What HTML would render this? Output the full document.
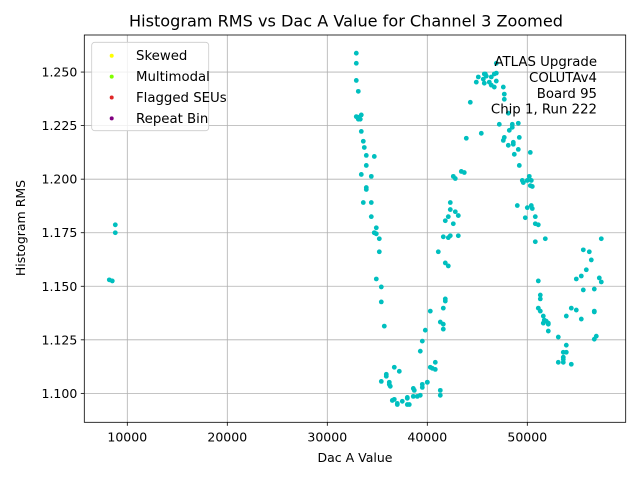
<!DOCTYPE html>
<html><head><meta charset="utf-8"><style>
body{margin:0;background:#fff;font-family:"Liberation Sans","DejaVu Sans",sans-serif;}
svg text{font-family:"DejaVu Sans","Liberation Sans",sans-serif;}
</style></head><body>
<svg id="c" width="640" height="480" xmlns="http://www.w3.org/2000/svg">
<rect width="640" height="480" fill="#fff"/>
</svg>
<script>
const xTicks=[10000,20000,30000,40000,50000];
const yTicks=[1.100,1.125,1.150,1.175,1.200,1.225,1.250];
const xVals=[8200,8500,8800,8800,
32900,32900,32900,33100,32900,33100,33400,33300,33100,33400,33600,33700,33900,34700,33900,34400,33400,33900,33900,34400,33600,34400,34700,34700,34900,34900,35200,35200,34900,
35400,35400,35700,35400,36700,37200,36200,35900,35900,36200,36300,36500,36700,37000,37000,37500,38000,38000,38000,38200,38600,38600,38700,39000,39300,39500,39500,40000,40000,39300,39500,39800,40300,40300,40500,
40800,40800,41300,41300,41300,41600,41600,41600,41800,41800,41100,41800,42100,42300,43100,41600,42100,41800,42300,42600,42800,43100,42100,42300,42600,42800,43400,43700,43900,44300,
44900,45100,45400,45600,45700,45800,45900,45700,46200,46400,46700,46700,46900,46900,46400,46900,47700,47600,47700,48100,48500,48200,47200,47700,47600,48600,48600,49200,48100,48500,49100,50300,48700,49100,49200,49500,49600,50000,50300,50500,50200,50400,49000,50000,50500,50400,50800,49800,50800,51100,
51800,50800,51100,51300,51300,51100,51300,51600,51700,51900,51600,52100,52100,52100,53100,53600,53600,53100,53600,53600,54400,53900,53900,54400,53900,54900,54900,55400,55600,56200,56400,56700,55600,55900,56700,56700,55400,56700,56900,57200,57400,57400];
const yVals=[1.1530,1.1525,1.1787,1.1750,
1.2588,1.2541,1.2461,1.2410,1.2292,1.2289,1.2300,1.2280,1.2280,1.2223,1.2177,1.2148,1.2111,1.2106,1.2064,1.2013,1.2022,1.1961,1.1952,1.1891,1.1891,1.1825,1.1750,1.1750,1.1773,1.1745,1.1722,1.1661,1.1534,
1.1497,1.1427,1.1314,1.1056,1.1122,1.1103,1.1052,1.1089,1.1080,1.1042,1.1033,1.0967,1.0972,1.0948,1.0953,1.0963,1.0981,1.0977,1.0948,1.0948,1.0986,1.1023,1.1014,1.0986,1.0991,1.1042,1.1028,1.1052,1.1052,1.1197,1.1244,1.1295,1.1384,1.1122,1.1117,
1.1112,1.1145,1.1014,1.0991,1.1333,1.1323,1.1300,1.1398,1.1431,1.1441,1.1661,1.1609,1.1595,1.1736,1.1736,1.1731,1.1727,1.1806,1.1858,1.1792,1.1848,1.1830,1.1825,1.1891,1.2013,1.2003,1.2036,1.2031,1.2191,1.2359,1.2453,1.2477,
1.2214,1.2467,1.2448,1.2491,1.2481,1.2491,1.2453,1.2439,1.2430,1.2491,1.2541,1.2495,1.2477,1.2458,1.2397,1.2430,1.2373,1.2308,1.2242,1.2228,1.2256,1.2195,1.2181,1.2172,1.2163,1.2195,1.2158,1.2256,1.2139,1.2125,1.2116,1.2261,1.2064,1.1994,1.1984,1.1994,1.1970,1.1966,1.2013,1.1994,1.1877,1.1867,1.1863,1.1877,1.1825,1.1820,1.1792,1.1787,1.1722,1.1708,
1.1525,1.1459,1.1441,1.1398,1.1384,1.1361,1.1342,1.1337,1.1328,1.1323,1.1328,1.1291,1.1263,1.1192,1.1169,1.1145,1.1145,1.1159,1.1136,1.1192,1.1225,1.1398,1.1361,1.1389,1.1534,1.1548,1.1670,1.1661,1.1623,1.1487,1.1483,1.1577,1.1380,1.1384,1.1347,1.1253,1.1267,1.1539,1.1520,1.1722,1.1784,1.1919];
const NS='http://www.w3.org/2000/svg';
const svg=document.getElementById('c');
const L=84.3,R=625.7,T=35,B=422.3,X0=5700,X1=59840,Y0=1.0865,Y1=1.2673;
const sx=v=>L+(v-X0)/(X1-X0)*(R-L);
const sy=v=>B-(v-Y0)/(Y1-Y0)*(B-T);
function mk(tag,attrs,parent){const e=document.createElementNS(NS,tag);for(const k in attrs)e.setAttribute(k,attrs[k]);(parent||svg).appendChild(e);return e;}
const grid=mk('g',{});


const ax=mk('g',{});


xTicks.forEach(t=>{const x=sx(t);
 mk('line',{x1:x,x2:x,y1:T,y2:B,stroke:'#b0b0b0','stroke-width':0.8},grid);
 mk('line',{x1:x,x2:x,y1:B,y2:B+3.5,stroke:'#000','stroke-width':0.8},ax);
 const tx=mk('text',{x:x,y:B+19,'font-size':12.5,'text-anchor':'middle'},ax);tx.textContent=t;
 
 
});
yTicks.forEach(t=>{const y=sy(t);
 mk('line',{x1:L,x2:R,y1:y,y2:y,stroke:'#b0b0b0','stroke-width':0.8},grid);
 mk('line',{x1:L-3.5,x2:L,y1:y,y2:y,stroke:'#000','stroke-width':0.8},ax);
 const tx=mk('text',{x:L-7,y:y+4.5,'font-size':12.5,'text-anchor':'end'},ax);tx.textContent=t.toFixed(3);
 
 
});
const pts=mk('g',{});


xVals.forEach((v,i)=>{const c=mk('circle',{cx:sx(v),cy:sy(yVals[i]),r:2.4,fill:'#00bfbf'},pts);
 
 
});
const fr=mk('rect',{x:L,y:T,width:R-L,height:B-T,fill:'none',stroke:'#000','stroke-width':0.8});


const title=mk('text',{x:346,y:26.5,'font-size':16.1,'text-anchor':'middle'});title.textContent='Histogram RMS vs Dac A Value for Channel 3 Zoomed';


const xl=mk('text',{x:(L+R)/2,y:462,'font-size':12.5,'text-anchor':'middle'});xl.textContent='Dac A Value';


const yl=mk('text',{x:0,y:0,'font-size':12.5,'text-anchor':'middle',transform:'translate(25,228) rotate(-90)'});yl.textContent='Histogram RMS';


const ann=mk('g',{});


['ATLAS Upgrade','COLUTAv4 ','Board 95','Chip 1, Run 222'].forEach((s,i)=>{const t=mk('text',{x:597,y:66+i*15.9,'font-size':13.3,'text-anchor':'end','xml:space':'preserve'},ann);t.textContent=s;});
const leg=mk('g',{});


mk('rect',{x:91.7,y:42.3,width:117,height:88.4,rx:3,fill:'#fff','fill-opacity':0.8,stroke:'#ccc','stroke-width':0.8},leg);
[['Skewed','#ffff00'],['Multimodal','#80ff00'],['Flagged SEUs','#e02828'],['Repeat Bin','#800080']].forEach((e,i)=>{
 const g=mk('g',{},leg);
 
 
 const y=55.7+i*20.9;
 mk('circle',{cx:111.7,cy:y,r:2,fill:e[1]},g);
 const t=mk('text',{x:136,y:y+4.5,'font-size':13.3},g);t.textContent=e[0];
});
</script>
</body></html>
